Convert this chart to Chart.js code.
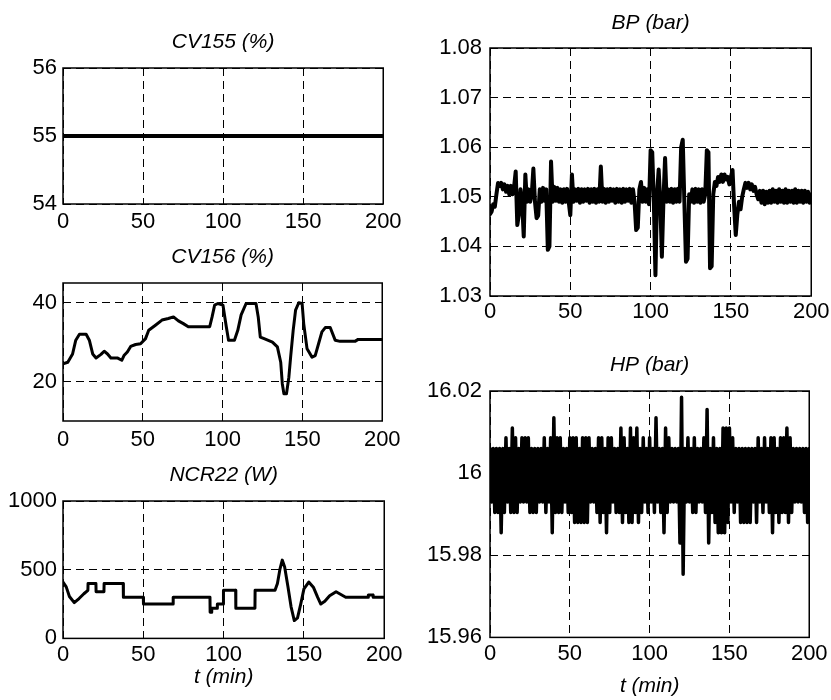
<!DOCTYPE html>
<html>
<head>
<meta charset="utf-8">
<script src="https://cdn.jsdelivr.net/npm/chart.js@4.4.1/dist/chart.umd.min.js"></script>
<style>
  html, body { margin: 0; padding: 0; background: #fff; }
  body { width: 831px; height: 700px; overflow: hidden; position: relative; }
  canvas { position: absolute; }
</style>
</head>
<body>
<canvas id="cv155" width="406" height="206" style="left:0px;top:28px"></canvas>
<canvas id="cv156" width="406" height="208" style="left:0px;top:243px"></canvas>
<canvas id="ncr22" width="406" height="229" style="left:0px;top:461px"></canvas>
<canvas id="bp" width="422" height="318" style="left:410px;top:8px"></canvas>
<canvas id="hp" width="421" height="348" style="left:410px;top:351px"></canvas>
<script>
// time axis (min)
const timeTicks = [0, 50, 100, 150, 200];

// CV155 (%)
const cv155Time = [0, 200];
const cv155Values = [55, 55];
const cv155Ticks = [54, 55, 56];

// CV156 (%)
const cv156Time = [0, 3, 6, 8, 10.3, 14.5, 16.5, 18.6, 20.7, 23.8, 25.8, 27.9, 30, 34, 36.8, 38.2, 40.3,
  42.4, 45.5, 48.6, 51.7, 53.7, 57.9, 62, 66, 69.2, 72.3, 75.4, 78.5, 84.7, 91.9, 93.4, 95, 97,
  100.2, 102.3, 103.7, 107.4, 109.5, 111.6, 114.7, 120.9, 122.3, 123.6, 126, 131.2, 134.3, 136.4,
  137.4, 138.4, 140, 141.5, 142.6, 144.2, 145.7, 147.7, 149.8, 150.8, 152.9, 156, 158, 160.1,
  162.2, 164.3, 167.4, 170.5, 173.6, 182.9, 184.9, 200];
const cv156Values = [24.5, 24.9, 27, 30.5, 32, 32, 30.5, 27, 26, 26.9, 27.7, 27, 26, 26, 25.4, 26.6, 27.5,
  28.9, 29.4, 29.6, 30.9, 33, 34.3, 35.6, 36, 36.4, 35.4, 34.7, 33.9, 33.9, 33.9, 36.4, 39.4, 39.8,
  39.4, 33.9, 30.5, 30.5, 33, 36.9, 39.8, 39.8, 36.4, 31.3, 30.9, 30, 28.8, 24.9,
  19.4, 16.9, 16.9, 21.1, 26.2, 33, 38.1, 40, 39.8, 34.7, 28.3, 26.2, 26.6, 29.6,
  32.6, 33.7, 33.7, 30.5, 30.2, 30.2, 30.7, 30.7];
const cv156Ticks = [20, 40];

// NCR22 (W)
const ncr22Time = [0, 2, 4, 7, 10, 13, 15.5, 15.6, 20.5, 20.6, 25.5, 25.6, 37.5, 37.6, 50, 50.1,
  68.5, 68.6, 91.5, 91.6, 92.5, 92.6, 96, 96.1, 99.8, 99.9, 107.5, 107.6, 119.5, 119.6, 132, 133.5,
  135, 136.5, 138, 140, 142, 144, 146, 148, 150, 153, 156, 158.5, 160.5, 163, 166, 170, 173, 176,
  190, 190.1, 193, 193.1, 200];
const ncr22Values = [410, 375, 305, 260, 290, 325, 350, 400, 400, 340, 340, 400, 400, 300, 300, 250,
  250, 300, 300, 190, 190, 220, 220, 250, 250, 350, 350, 220, 220, 350, 350, 400,
  500, 570, 520, 380, 230, 130, 150, 250, 360, 410, 370, 300, 250, 270, 310, 340, 320, 300,
  300, 315, 315, 300, 300];
const ncr22Ticks = [0, 500, 1000];

// BP (bar), one sample per minute, t = 0..200
const bpValues = [
  1.0465, 1.047, 1.0485, 1.048, 1.0505, 1.0528, 1.0522, 1.0528, 1.0515, 1.0525,
  1.051, 1.0522, 1.0505, 1.0522, 1.0505, 1.052, 1.0551, 1.0443, 1.0465, 1.0515,
  1.049, 1.042, 1.0545, 1.049, 1.0515, 1.049, 1.0505, 1.0557, 1.049, 1.0457,
  1.0462, 1.0515, 1.049, 1.0518, 1.0492, 1.0515, 1.0393, 1.04, 1.0571, 1.049,
  1.052, 1.0492, 1.0518, 1.049, 1.0515, 1.0488, 1.0515, 1.049, 1.0516, 1.049,
  1.0463, 1.0545, 1.049, 1.0515, 1.0492, 1.0516, 1.0488, 1.0515, 1.049, 1.0515,
  1.0492, 1.0516, 1.0488, 1.0515, 1.049, 1.0516, 1.0488, 1.0515, 1.049, 1.0561,
  1.049, 1.0516, 1.0488, 1.0515, 1.049, 1.0516, 1.0492, 1.0515, 1.0488, 1.0516,
  1.049, 1.0515, 1.0488, 1.0516, 1.049, 1.0515, 1.0492, 1.0516, 1.0488, 1.0515,
  1.049, 1.0433, 1.0438, 1.0515, 1.053, 1.049, 1.0518, 1.049, 1.0515, 1.0485,
  1.0594, 1.059, 1.049, 1.0342, 1.0505, 1.0555, 1.049, 1.0379, 1.0495, 1.0578,
  1.049, 1.0515, 1.049, 1.0516, 1.0488, 1.0515, 1.049, 1.0516, 1.049, 1.06,
  1.0615, 1.049, 1.0369, 1.0375, 1.0505, 1.049, 1.0515, 1.0488, 1.0516, 1.049,
  1.0515, 1.0488, 1.0515, 1.049, 1.0505, 1.0594, 1.059, 1.0356, 1.036, 1.0505,
  1.053, 1.0522, 1.054, 1.053, 1.0545, 1.053, 1.0545, 1.0535, 1.054, 1.0525,
  1.054, 1.0554, 1.048, 1.0423, 1.0465, 1.049, 1.0475, 1.05, 1.0515, 1.0528,
  1.0518, 1.0528, 1.0515, 1.0525, 1.0512, 1.052, 1.0505, 1.0495, 1.0512, 1.0488,
  1.0512, 1.0485, 1.051, 1.0488, 1.0512, 1.0488, 1.0515, 1.049, 1.0512, 1.0488,
  1.0515, 1.049, 1.0512, 1.0488, 1.0515, 1.0488, 1.0512, 1.049, 1.0512, 1.0488,
  1.0515, 1.0488, 1.0512, 1.049, 1.0512, 1.0488, 1.0512, 1.049, 1.051, 1.0488,
  1.0505
];
const bpTicks = [1.03, 1.04, 1.05, 1.06, 1.07, 1.08];

// HP (bar), one sample per minute, t = 0..200
const hpValues = [
  16.006, 15.993, 16.006, 15.9904, 16.006, 15.9904, 16.006, 15.9855, 16.006, 15.9904,
  16.0086, 15.993, 16.006, 15.9904, 16.011, 15.9904, 16.0086, 15.9904, 16.006, 15.993,
  16.0086, 15.993, 16.0086, 15.993, 16.0086, 15.9904, 16.006, 15.9904, 16.006, 15.9904,
  16.006, 15.993, 16.006, 15.993, 16.0086, 15.9904, 16.006, 15.993, 16.0086, 15.9855,
  16.0135, 15.9904, 16.0086, 15.9904, 16.0086, 15.9904, 16.006, 15.993, 16.006, 15.9904,
  16.0086, 15.9904, 16.0086, 15.988, 16.0086, 15.988, 16.006, 15.988, 16.0086, 15.988,
  16.0086, 15.988, 16.0086, 15.993, 16.006, 15.993, 16.006, 15.9904, 16.0086, 15.988,
  16.0086, 15.9904, 16.006, 15.9855, 16.0086, 15.9904, 16.0086, 15.993, 16.006, 15.9904,
  16.006, 15.9904, 16.011, 15.988, 16.0086, 15.9904, 16.006, 15.988, 16.011, 15.988,
  16.0086, 15.9904, 16.011, 15.988, 16.006, 15.9904, 16.0086, 15.993, 16.006, 15.9904,
  16.0086, 15.993, 16.006, 15.9904, 16.0135, 15.993, 16.006, 15.9904, 16.006, 15.9855,
  16.011, 15.9904, 16.0086, 15.993, 16.006, 15.993, 16.006, 15.993, 16.006, 15.983,
  16.0185, 15.9754, 16.006, 15.993, 16.0086, 15.993, 16.006, 15.9904, 16.0086, 15.9904,
  16.006, 15.993, 16.006, 15.993, 16.0086, 15.9904, 16.0155, 15.983, 16.006, 15.9904,
  16.0086, 15.988, 16.006, 15.9855, 16.006, 15.9855, 16.011, 15.9855, 16.011, 15.988,
  16.011, 15.993, 16.0086, 15.9904, 16.006, 15.993, 16.006, 15.988, 16.006, 15.988,
  16.006, 15.988, 16.006, 15.988, 16.006, 15.993, 16.006, 15.988, 16.0086, 15.993,
  16.006, 15.9904, 16.0086, 15.993, 16.006, 15.9904, 16.0086, 15.9855, 16.0086, 15.9904,
  16.006, 15.988, 16.0086, 15.9904, 16.0086, 15.9904, 16.011, 15.988, 16.0086, 15.9904,
  16.006, 15.993, 16.006, 15.993, 16.006, 15.993, 16.006, 15.9904, 16.006, 15.988,
  16.006
];
const hpTicks = [15.96, 15.98, 16, 16.02];

const FONT = "'Liberation Sans', Arial, sans-serif";

// solid box round the plot area, like the matlab axes
const framePlugin = {
  id: 'frame',
  afterDatasetsDraw(chart) {
    const { ctx, chartArea } = chart;
    ctx.save();
    ctx.strokeStyle = '#000';
    ctx.lineWidth = 1.5;
    ctx.strokeRect(chartArea.left, chartArea.top, chartArea.right - chartArea.left, chartArea.bottom - chartArea.top);
    ctx.restore();
  }
};

function pairUp(times, values) {
  return values.map((v, i) => ({ x: times[i], y: v }));
}

function perMinute(values) {
  return values.map((v, i) => ({ x: i, y: v }));
}

function fixedTicks(list) {
  return axis => { axis.ticks = list.map(v => ({ value: v })); };
}

function drawPanel(id, cfg) {
  const canvas = document.getElementById(id);
  return new Chart(canvas, {
    type: 'line',
    data: {
      datasets: [{
        data: cfg.points,
        borderColor: '#000',
        borderWidth: cfg.lineWidth || 3,
        pointRadius: 0,
        tension: 0,
        borderJoinStyle: 'round',
        borderCapStyle: 'round'
      }]
    },
    options: {
      responsive: false,
      animation: false,
      events: [],
      layout: { padding: { left: 0, top: 0, right: 20, bottom: 0 } },
      plugins: {
        legend: { display: false },
        tooltip: { enabled: false },
        title: {
          display: true,
          text: cfg.title,
          fullSize: false,
          color: '#000',
          font: { family: FONT, size: 21, style: 'italic', weight: 'normal' },
          padding: { top: cfg.titleTop, bottom: cfg.titleBottom }
        }
      },
      scales: {
        x: {
          type: 'linear',
          min: 0,
          max: 200,
          afterBuildTicks: fixedTicks(timeTicks),
          afterFit: axis => { axis.height = cfg.xHeight; },
          grid: { color: '#000', lineWidth: 1, drawTicks: false },
          border: { display: false, dash: [8, 5] },
          ticks: {
            color: '#000',
            autoSkip: false,
            maxRotation: 0,
            padding: cfg.xPad,
            font: { family: FONT, size: 22 }
          },
          title: {
            display: !!cfg.xTitle,
            text: cfg.xTitle || '',
            color: '#000',
            font: { family: FONT, size: 21, style: 'italic' },
            padding: 0
          }
        },
        y: {
          type: 'linear',
          min: cfg.yMin,
          max: cfg.yMax,
          afterBuildTicks: fixedTicks(cfg.yTicks),
          afterFit: axis => { axis.width = cfg.yWidth; },
          grid: { color: '#000', lineWidth: 1, drawTicks: false },
          border: { display: false, dash: [8, 5] },
          ticks: {
            color: '#000',
            padding: cfg.yPad,
            font: { family: FONT, size: 22 },
            callback: v => String(+v.toFixed(2))
          }
        }
      }
    },
    plugins: [framePlugin]
  });
}

drawPanel('cv155', {
  title: 'CV155 (%)', points: pairUp(cv155Time, cv155Values), lineWidth: 4,
  yMin: 54, yMax: 56, yTicks: cv155Ticks, yWidth: 63, yPad: 6,
  titleTop: 1.4, titleBottom: 13.4, xHeight: 30, xPad: 4.4
});
drawPanel('cv156', {
  title: 'CV156 (%)', points: pairUp(cv156Time, cv156Values),
  yMin: 10, yMax: 45, yTicks: cv156Ticks, yWidth: 63, yPad: 6,
  titleTop: 1.4, titleBottom: 13.4, xHeight: 30, xPad: 5.4
});
drawPanel('ncr22', {
  title: 'NCR22 (W)', points: pairUp(ncr22Time, ncr22Values),
  yMin: 0, yMax: 1000, yTicks: ncr22Ticks, yWidth: 63, yPad: 6,
  titleTop: 1.4, titleBottom: 13.4, xHeight: 51.6, xPad: 3.4, xTitle: 't (min)'
});
drawPanel('bp', {
  title: 'BP (bar)', points: perMinute(bpValues), lineWidth: 4,
  yMin: 1.03, yMax: 1.08, yTicks: bpTicks, yWidth: 80, yPad: 8,
  titleTop: 2.4, titleBottom: 12.4, xHeight: 30, xPad: 2.4
});
drawPanel('hp', {
  title: 'HP (bar)', points: perMinute(hpValues), lineWidth: 3.5,
  yMin: 15.96, yMax: 16.02, yTicks: hpTicks, yWidth: 80, yPad: 8,
  titleTop: 1.4, titleBottom: 13.4, xHeight: 61.6, xPad: 3.4, xTitle: 't (min)'
});
</script>
</body>
</html>
